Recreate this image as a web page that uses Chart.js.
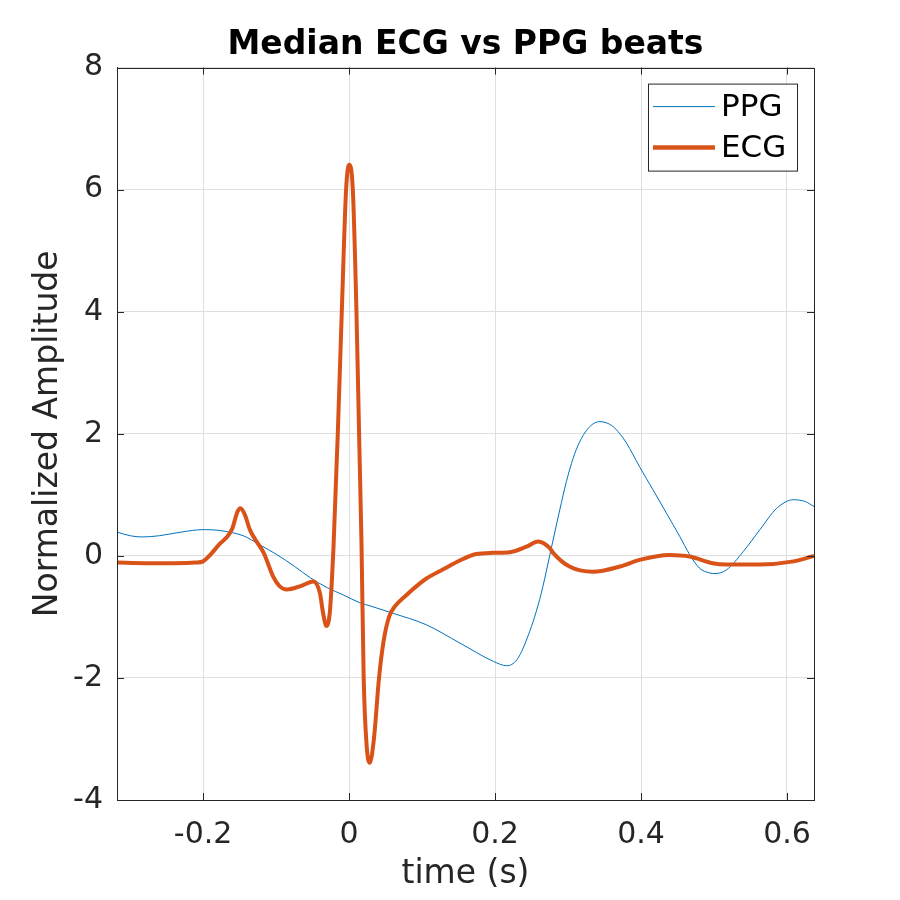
<!DOCTYPE html>
<html>
<head>
<meta charset="utf-8">
<script src="https://cdn.jsdelivr.net/npm/chart.js@4/dist/chart.umd.min.js"></script>
<style>
  html, body { margin: 0; padding: 0; background: #fff; }
  #wrap { width: 900px; height: 900px; }
</style>
</head>
<body>
<div id="wrap"><canvas id="chart" width="900" height="900"></canvas></div>
<script>
// values
const ppgTime = [-0.318, -0.3, -0.284, -0.26, -0.23, -0.2, -0.18, -0.16, -0.145, -0.122, -0.099, -0.075, -0.053, -0.03, -0.008,
    0.015, 0.029, 0.06, 0.106, 0.152, 0.198, 0.216, 0.23, 0.243, 0.261, 0.2795, 0.2886, 0.2978, 0.307, 0.316, 0.325, 0.334,
    0.3434, 0.3525, 0.3616, 0.371, 0.38, 0.398, 0.4165, 0.4348, 0.453, 0.4667, 0.48, 0.494, 0.501, 0.517, 0.54, 0.563,
    0.586, 0.609, 0.625, 0.637];
const ppgValues = [0.39, 0.33, 0.31, 0.33, 0.39, 0.43, 0.42, 0.38, 0.33, 0.18, 0.02, -0.17, -0.36, -0.52, -0.64,
    -0.77, -0.82, -0.94, -1.13, -1.43, -1.73, -1.80, -1.70, -1.38, -0.72, 0.26, 0.75, 1.22, 1.60, 1.87, 2.05, 2.16,
    2.20, 2.18, 2.12, 2.00, 1.85, 1.46, 1.08, 0.70, 0.32, 0.02, -0.20, -0.28, -0.29, -0.23, 0.07, 0.43,
    0.78, 0.92, 0.89, 0.81];

const ecgTime = [-0.318, -0.28, -0.24, -0.21, -0.2, -0.19, -0.177, -0.168, -0.16, -0.153, -0.149, -0.143, -0.136, -0.127,
    -0.117, -0.104, -0.095, -0.085, -0.0675, -0.049, -0.04, -0.0356, -0.031, -0.0265, -0.024, -0.0215, -0.0155, -0.010,
    -0.0041, 0, 0.0051, 0.0101, 0.0137, 0.017, 0.020, 0.024, 0.0283, 0.034, 0.041, 0.0475, 0.055, 0.0626, 0.0786,
    0.097, 0.106, 0.129, 0.151, 0.174, 0.197, 0.22, 0.243, 0.259, 0.275, 0.2795, 0.302, 0.334, 0.371, 0.398,
    0.439, 0.4667, 0.498, 0.517, 0.563, 0.609, 0.637];
const ecgValues = [-0.11, -0.12, -0.12, -0.11, -0.09, 0.02, 0.2, 0.3, 0.45, 0.72, 0.78, 0.68, 0.43, 0.24,
    0.05, -0.34, -0.5, -0.55, -0.50, -0.42, -0.61, -0.94, -1.15, -0.94, -0.5, 0.1, 2, 4,
    6, 6.41, 6, 4, 2, 0.2, -2, -3.1, -3.39, -3.0, -2.0, -1.38, -0.99, -0.83, -0.64,
    -0.45, -0.37, -0.22, -0.08, 0.03, 0.05, 0.06, 0.15, 0.235, 0.126, 0.05, -0.175, -0.26, -0.175, -0.066,
    0.016, -0.01, -0.12, -0.14, -0.14, -0.09, 0.0];

const seriesNames = ['PPG', 'ECG'];
const xTicks = [-0.2, 0, 0.2, 0.4, 0.6];
const yTicks = [-4, -2, 0, 2, 4, 6, 8];
const xRange = [-0.318, 0.637];
const yRange = [-4, 8];

const axisColor = '#262626';
const gridColor = '#dfdfdf';
const fontFamily = '"DejaVu Sans", sans-serif';

function toPoints(xs, ys) {
    return xs.map((x, i) => ({ x: x, y: ys[i] }));
}

// MATLAB style: box round the axes, ticks pointing inward, legend inside the top right corner
const boxPlugin = {
    id: 'boxPlugin',
    afterDatasetsDraw(chart) {
        const ctx = chart.ctx;
        const area = chart.chartArea;
        const xs = chart.scales.x;
        const ys = chart.scales.y;
        const len = 7;
        ctx.save();
        ctx.strokeStyle = axisColor;
        ctx.lineWidth = 1;
        ctx.beginPath();
        xTicks.forEach(t => {
            const px = Math.round(xs.getPixelForValue(t)) + 0.5;
            ctx.moveTo(px, area.bottom); ctx.lineTo(px, area.bottom - len);
            ctx.moveTo(px, area.top); ctx.lineTo(px, area.top + len);
        });
        yTicks.forEach(t => {
            const py = Math.round(ys.getPixelForValue(t)) + 0.5;
            ctx.moveTo(area.left, py); ctx.lineTo(area.left + len, py);
            ctx.moveTo(area.right, py); ctx.lineTo(area.right - len, py);
        });
        ctx.stroke();
        ctx.strokeRect(Math.round(area.left) + 0.5, Math.round(area.top) + 0.5,
            Math.round(area.right - area.left), Math.round(area.bottom - area.top));

        // legend
        const bx = area.right - 166, by = area.top + 16, bw = 149, bh = 87;
        ctx.fillStyle = '#fff';
        ctx.fillRect(bx, by, bw, bh);
        ctx.strokeRect(bx + 0.5, by + 0.5, bw, bh);
        ctx.font = '31px ' + fontFamily;
        ctx.textBaseline = 'middle';
        chart.data.datasets.forEach((ds, i) => {
            const ly = by + 23 + i * 41;
            ctx.strokeStyle = ds.borderColor;
            ctx.lineWidth = ds.borderWidth + (i == 1 ? 0.5 : 0);
            ctx.beginPath();
            ctx.moveTo(bx + 5, ly); ctx.lineTo(bx + 67, ly);
            ctx.stroke();
            ctx.fillStyle = '#000';
            ctx.fillText(ds.label, bx + 73, ly + 1);
        });
        ctx.restore();
    }
};

new Chart(document.getElementById('chart'), {
    type: 'line',
    data: {
        datasets: [{
            label: seriesNames[0],
            data: toPoints(ppgTime, ppgValues),
            borderColor: '#0072BD',
            borderWidth: 1,
            pointRadius: 0,
            cubicInterpolationMode: 'monotone',
            order: 1
        }, {
            label: seriesNames[1],
            data: toPoints(ecgTime, ecgValues),
            borderColor: '#D95319',
            borderWidth: 4,
            pointRadius: 0,
            cubicInterpolationMode: 'monotone',
            order: 0
        }]
    },
    options: {
        responsive: false,
        animation: false,
        layout: { padding: { left: 0, right: 86, top: 0, bottom: 0 } },
        plugins: {
            legend: { display: false },
            tooltip: { enabled: false },
            title: {
                display: true,
                text: 'Median ECG vs PPG beats',
                fullSize: false,
                color: '#000',
                font: { family: fontFamily, size: 33, weight: 'bold' },
                padding: { top: 26, bottom: 2 }
            }
        },
        scales: {
            x: {
                type: 'linear',
                min: xRange[0],
                max: xRange[1],
                afterBuildTicks: axis => { axis.ticks = xTicks.map(v => ({ value: v })); },
                afterFit: axis => { axis.height = 100; },
                grid: { color: gridColor, drawTicks: false },
                border: { color: axisColor },
                ticks: {
                    color: axisColor,
                    padding: 17,
                    maxRotation: 0,
                    font: { family: fontFamily, size: 30 },
                    callback: v => String(v)
                },
                title: {
                    display: true,
                    text: 'time (s)',
                    color: axisColor,
                    font: { family: fontFamily, size: 33 },
                    padding: { top: 0, bottom: 6 }
                }
            },
            y: {
                type: 'linear',
                min: yRange[0],
                max: yRange[1],
                afterBuildTicks: axis => { axis.ticks = yTicks.map(v => ({ value: v })); },
                afterFit: axis => { axis.width = 117; },
                grid: { color: gridColor, drawTicks: false },
                border: { color: axisColor },
                ticks: {
                    color: axisColor,
                    padding: 14,
                    font: { family: fontFamily, size: 30 },
                    callback: v => String(v)
                },
                title: {
                    display: true,
                    text: 'Normalized Amplitude',
                    color: axisColor,
                    font: { family: fontFamily, size: 33 },
                    padding: { top: 29, bottom: 0 }
                }
            }
        }
    },
    plugins: [boxPlugin]
});
</script>
</body>
</html>
